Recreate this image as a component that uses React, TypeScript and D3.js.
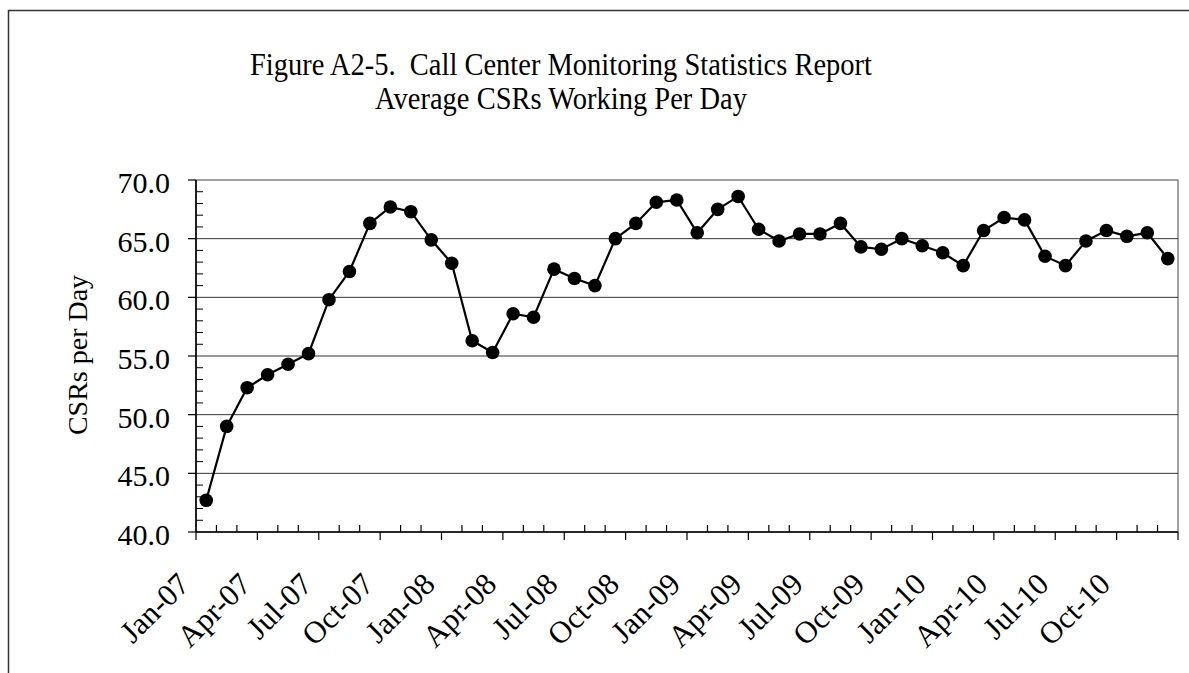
import React from 'react';
import * as d3 from 'd3';

const months = [
  'Jan-07', 'Feb-07', 'Mar-07', 'Apr-07', 'May-07', 'Jun-07', 'Jul-07', 'Aug-07', 'Sep-07', 'Oct-07', 'Nov-07', 'Dec-07',
  'Jan-08', 'Feb-08', 'Mar-08', 'Apr-08', 'May-08', 'Jun-08', 'Jul-08', 'Aug-08', 'Sep-08', 'Oct-08', 'Nov-08', 'Dec-08',
  'Jan-09', 'Feb-09', 'Mar-09', 'Apr-09', 'May-09', 'Jun-09', 'Jul-09', 'Aug-09', 'Sep-09', 'Oct-09', 'Nov-09', 'Dec-09',
  'Jan-10', 'Feb-10', 'Mar-10', 'Apr-10', 'May-10', 'Jun-10', 'Jul-10', 'Aug-10', 'Sep-10', 'Oct-10', 'Nov-10', 'Dec-10',
];

// average CSRs working per day
const csrs = [
  42.7, 49.0, 52.3, 53.4, 54.3, 55.2, 59.8, 62.2, 66.3, 67.7, 67.3, 64.9,
  62.9, 56.3, 55.3, 58.6, 58.3, 62.4, 61.6, 61.0, 65.0, 66.3, 68.1, 68.3,
  65.5, 67.5, 68.6, 65.8, 64.8, 65.4, 65.4, 66.3, 64.3, 64.1, 65.0, 64.4,
  63.8, 62.7, 65.7, 66.8, 66.6, 63.5, 62.7, 64.8, 65.7, 65.2, 65.5, 63.3,
];

const xTickLabels = [
  'Jan-07', 'Apr-07', 'Jul-07', 'Oct-07', 'Jan-08', 'Apr-08', 'Jul-08', 'Oct-08',
  'Jan-09', 'Apr-09', 'Jul-09', 'Oct-09', 'Jan-10', 'Apr-10', 'Jul-10', 'Oct-10',
];
const yTicks = [40, 45, 50, 55, 60, 65, 70];

const W = 1189;
const H = 673;
const left = 196;
const right = 1178;
const top = 180;
const bottom = 532;
const font = '"Liberation Serif", "Times New Roman", serif';

export default function App() {
  const x = d3.scaleBand().domain(months).range([left, right]).padding(0);
  const y = d3.scaleLinear().domain([40, 70]).range([bottom, top]);
  const bw = x.bandwidth();
  const cx = (m: string) => (x(m) as number) + bw / 2;

  const line = d3.line<number>()
    .x((d, i) => cx(months[i]))
    .y(d => y(d));

  const minorY = d3.range(40, 71, 1).filter(v => v % 5 !== 0);

  return (
    <svg width={W} height={H} style={{ position: 'absolute', left: 0, top: 0, background: '#fff' }}
      fontFamily={font}>
      {/* outer frame */}
      <path d={`M8.5,${H + 2} V10.5 H${W + 2}`} fill="none" stroke="#333" strokeWidth={1.5} />

      <g transform="translate(561,0) scale(1,1.12)">
        <text x={0} y={67} textAnchor="middle" fontSize={28.5} style={{ whiteSpace: 'pre' }}>Figure A2-5.  Call Center Monitoring Statistics Report</text>
        <text x={0} y={97} textAnchor="middle" fontSize={28.5}>Average CSRs Working Per Day</text>
      </g>

      {/* gridlines */}
      {yTicks.slice(1, -1).map(v => (
        <line key={v} x1={left} x2={right} y1={y(v)} y2={y(v)} stroke="#333" strokeWidth={1} />
      ))}
      {/* plot border */}
      <rect x={left} y={top} width={right - left} height={bottom - top} fill="none" stroke="#444" strokeWidth={1} />

      {/* y axis */}
      <line x1={left} x2={left} y1={top} y2={bottom} stroke="#000" strokeWidth={1.6} />
      {yTicks.map(v => (
        <g key={v}>
          <line x1={left - 8} x2={left} y1={y(v)} y2={y(v)} stroke="#000" strokeWidth={1.2} />
          <text x={170} y={y(v) + 13} textAnchor="end" fontSize={30}>{v.toFixed(1)}</text>
        </g>
      ))}
      {minorY.map(v => (
        <line key={v} x1={left} x2={left + 7} y1={y(v)} y2={y(v)} stroke="#000" strokeWidth={1} />
      ))}
      <text transform={`translate(87,355) rotate(-90)`} textAnchor="middle" fontSize={28}>CSRs per Day</text>

      {/* x axis */}
      <line x1={left} x2={right} y1={bottom} y2={bottom} stroke="#000" strokeWidth={1.6} />
      {months.map((m, i) => {
        const xb = x(m) as number;
        return i % 3 === 0
          ? <line key={m} x1={xb} x2={xb} y1={bottom} y2={bottom + 8} stroke="#000" strokeWidth={1.2} />
          : <line key={m} x1={xb} x2={xb} y1={bottom} y2={bottom - 7} stroke="#000" strokeWidth={1.2} />;
      })}
      <line x1={right} x2={right} y1={bottom} y2={bottom + 8} stroke="#000" strokeWidth={1.2} />
      {xTickLabels.map(m => (
        <text key={m} transform={`translate(${cx(m) - 15},586) rotate(-45)`} textAnchor="end" fontSize={31}>{m}</text>
      ))}

      {/* series */}
      <path d={line(csrs) as string} fill="none" stroke="#000" strokeWidth={2.2} />
      {csrs.map((v, i) => (
        <circle key={months[i]} cx={cx(months[i])} cy={y(v)} r={6.8} fill="#000" />
      ))}
    </svg>
  );
}
